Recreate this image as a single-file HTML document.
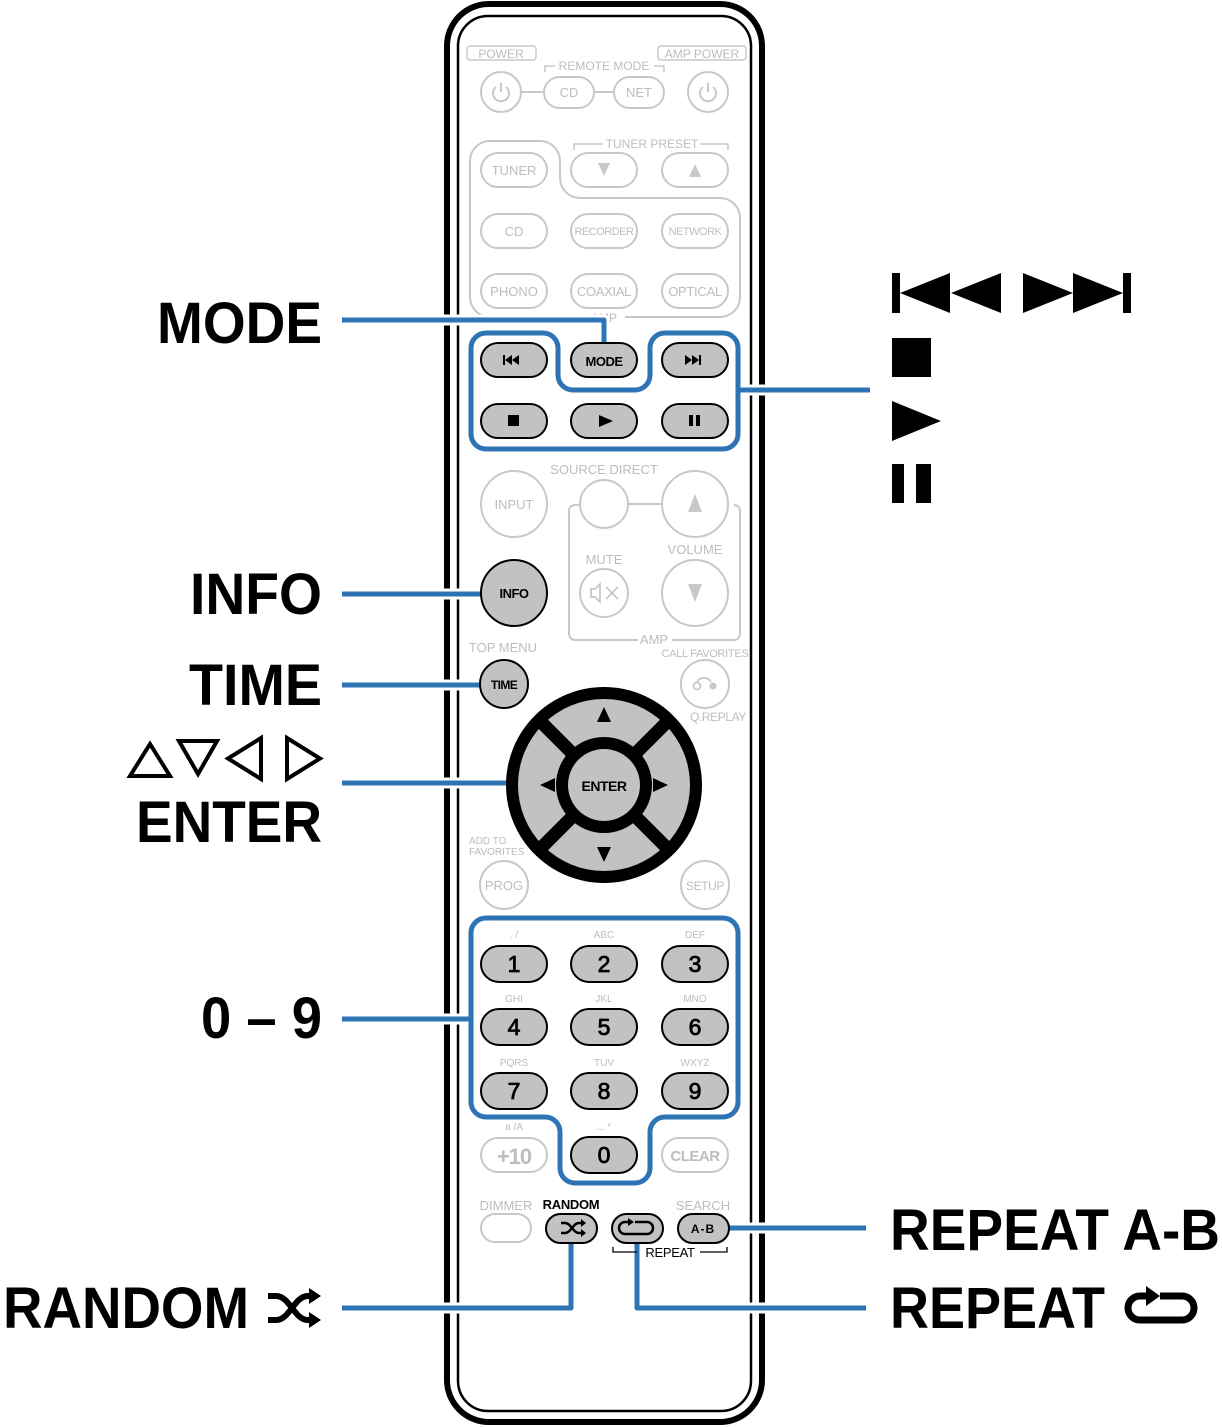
<!DOCTYPE html>
<html><head><meta charset="utf-8"><style>
html,body{margin:0;padding:0;background:#fff;}
svg{display:block;}
text{font-family:"Liberation Sans",Arial,sans-serif;}
</style></head><body>
<svg width="1222" height="1427" viewBox="0 0 1222 1427" xmlns="http://www.w3.org/2000/svg">
<!-- remote body -->
<rect x="447" y="4" width="315" height="1418" rx="42" fill="#fff" stroke="#000" stroke-width="6"/>
<rect x="458" y="16" width="293" height="1395" rx="30" fill="none" stroke="#000" stroke-width="2.5"/>

<g font-size="12" fill="#bdbdbd" text-anchor="middle" stroke="none">
<rect x="467" y="46" width="69" height="14" rx="3" fill="none" stroke="#c8c8c8" stroke-width="1.5"/>
<text x="501" y="58">POWER</text>
<rect x="658" y="46" width="88" height="14" rx="3" fill="none" stroke="#c8c8c8" stroke-width="1.5"/>
<text x="702" y="58">AMP POWER</text>
<text x="604" y="70">REMOTE MODE</text>
<path d="M545 72V66H555M654 66H664V72" fill="none" stroke="#c8c8c8" stroke-width="1.5"/>
<path d="M521 92H544M594 92H614" stroke="#c8c8c8" stroke-width="2"/>
<circle cx="501" cy="92" r="20" fill="#fff" stroke="#c8c8c8" stroke-width="2"/>
<circle cx="708" cy="92" r="20" fill="#fff" stroke="#c8c8c8" stroke-width="2"/>
<path d="M496 87a8 8 0 1 0 10 0M501 83v9" fill="none" stroke="#c8c8c8" stroke-width="2"/>
<path d="M703 87a8 8 0 1 0 10 0M708 83v9" fill="none" stroke="#c8c8c8" stroke-width="2"/>
<rect x="544" y="77" width="50" height="31" rx="15.5" fill="#fff" stroke="#c8c8c8" stroke-width="2"/>
<rect x="614" y="77" width="50" height="31" rx="15.5" fill="#fff" stroke="#c8c8c8" stroke-width="2"/>
<text x="569" y="97" font-size="13">CD</text><text x="639" y="97" font-size="13">NET</text>

<text x="652" y="148">TUNER PRESET</text>
<path d="M574 150V144H603M700 144H728V150" fill="none" stroke="#c8c8c8" stroke-width="1.5"/>
<path d="M490 141H540A20 20 0 0 1 560 161V178A20 20 0 0 0 580 198H720A20 20 0 0 1 740 218V297A20 20 0 0 1 720 317H490A20 20 0 0 1 470 297V161A20 20 0 0 1 490 141Z" fill="none" stroke="#c8c8c8" stroke-width="2"/>
<rect x="585" y="311" width="40" height="12" fill="#fff"/>
<text x="604" y="322">AMP</text>
<g fill="#fff" stroke="#c8c8c8" stroke-width="2">
<rect x="481" y="153" width="66" height="34" rx="17"/><rect x="571" y="153" width="66" height="34" rx="17"/><rect x="662" y="153" width="66" height="34" rx="17"/>
<rect x="481" y="214" width="66" height="34" rx="17"/><rect x="571" y="214" width="66" height="34" rx="17"/><rect x="662" y="214" width="66" height="34" rx="17"/>
<rect x="481" y="274" width="66" height="34" rx="17"/><rect x="571" y="274" width="66" height="34" rx="17"/><rect x="662" y="274" width="66" height="34" rx="17"/>
</g>
<text x="514" y="175" font-size="13">TUNER</text>
<path d="M598 163h12l-6 13z M689 177h12l-6-13z" fill="#c8c8c8"/>
<text x="514" y="236" font-size="13">CD</text>
<text x="604" y="235" font-size="11" letter-spacing="-0.5">RECORDER</text>
<text x="695" y="235" font-size="11" letter-spacing="-0.5">NETWORK</text>
<text x="514" y="296" font-size="13">PHONO</text>
<text x="604" y="296" font-size="13" letter-spacing="-0.3">COAXIAL</text>
<text x="695" y="296" font-size="13" letter-spacing="-0.3">OPTICAL</text>

<text x="604" y="474" font-size="13">SOURCE DIRECT</text>
<path d="M580 505H575A6 6 0 0 0 569 511V634A6 6 0 0 0 575 640H638M672 640H734A6 6 0 0 0 740 634V511A6 6 0 0 0 734 505" fill="none" stroke="#c8c8c8" stroke-width="2"/>
<path d="M628 504H662" stroke="#c8c8c8" stroke-width="2"/>
<text x="654" y="644" font-size="13">AMP</text>
<g fill="#fff" stroke="#c8c8c8" stroke-width="2">
<circle cx="514" cy="504" r="33"/><circle cx="604" cy="504" r="24"/><circle cx="695" cy="504" r="33"/>
<circle cx="604" cy="593" r="24"/><circle cx="695" cy="593" r="33"/>
<circle cx="705" cy="684" r="24"/><circle cx="504" cy="885" r="24"/><circle cx="705" cy="885" r="24"/>
</g>
<text x="514" y="509" font-size="13">INPUT</text>
<path d="M688 512h14l-7-18z M688 584h14l-7 18z" fill="#c8c8c8"/>
<text x="695" y="554" font-size="13">VOLUME</text>
<text x="604" y="564" font-size="13">MUTE</text>
<path d="M591 589h4l5-5v18l-5-5h-4z M606 587l12 12M618 587l-12 12" fill="none" stroke="#c8c8c8" stroke-width="1.8"/>
<text x="503" y="652" font-size="13">TOP MENU</text>
<text x="705" y="657" font-size="11" letter-spacing="-0.3">CALL FAVORITES</text>
<circle cx="697" cy="686" r="3.5" fill="none" stroke="#c8c8c8" stroke-width="1.8"/><circle cx="713" cy="686" r="3.5" fill="#c8c8c8"/>
<path d="M697 682a8 8 0 0 1 14 0" fill="none" stroke="#c8c8c8" stroke-width="1.8"/>
<text x="718" y="721" font-size="12" letter-spacing="-0.4">Q.REPLAY</text>
<text x="469" y="844" font-size="10" text-anchor="start">ADD TO</text>
<text x="469" y="855" font-size="10" text-anchor="start">FAVORITES</text>
<text x="504" y="890" font-size="13">PROG</text>
<text x="705" y="890" font-size="12" letter-spacing="-0.4">SETUP</text>

<text x="514" y="938" font-size="10">. /</text><text x="604" y="938" font-size="10">ABC</text><text x="695" y="938" font-size="10">DEF</text>
<text x="514" y="1002" font-size="10">GHI</text><text x="604" y="1002" font-size="10">JKL</text><text x="695" y="1002" font-size="10">MNO</text>
<text x="514" y="1066" font-size="10">PQRS</text><text x="604" y="1066" font-size="10">TUV</text><text x="695" y="1066" font-size="10">WXYZ</text>
<text x="514" y="1130" font-size="10">a /A</text><text x="604" y="1130" font-size="10">⌴ *</text>
<rect x="481" y="1138" width="66" height="34" rx="17" fill="#fff" stroke="#c8c8c8" stroke-width="2"/>
<rect x="662" y="1138" width="66" height="34" rx="17" fill="#fff" stroke="#c8c8c8" stroke-width="2"/>
<text x="514" y="1164" font-size="22" font-weight="bold" letter-spacing="-1">+10</text>
<text x="695" y="1161" font-size="15" font-weight="bold" letter-spacing="-0.5">CLEAR</text>
<text x="506" y="1210" font-size="13">DIMMER</text>
<text x="703" y="1210" font-size="13">SEARCH</text>
<rect x="481" y="1214" width="50" height="28" rx="14" fill="#fff" stroke="#c8c8c8" stroke-width="2"/>
</g>

<g fill="none" stroke-linejoin="round">
<g stroke="#fff" stroke-width="11">
<path d="M342 320H604V345"/><path d="M738 390H870"/><path d="M342 594H481"/><path d="M342 685H480"/><path d="M342 783H507"/><path d="M342 1019H471"/>
<path d="M342 1308H571V1242"/><path d="M637 1242V1308H866"/><path d="M729 1228H866"/>
</g>
<g stroke="#2e74b5" stroke-width="5">
<path d="M342 320H604V345"/><path d="M738 390H870"/><path d="M342 594H481"/><path d="M342 685H480"/><path d="M342 783H507"/><path d="M342 1019H471"/>
<path d="M342 1308H571V1242"/><path d="M637 1242V1308H866"/><path d="M729 1228H866"/>
<path d="M486 333H543A15 15 0 0 1 558 348V375A15 15 0 0 0 573 390H635A15 15 0 0 0 650 375V348A15 15 0 0 1 665 333H723A15 15 0 0 1 738 348V434A15 15 0 0 1 723 449H486A15 15 0 0 1 471 434V348A15 15 0 0 1 486 333Z"/>
<path d="M486 918H723A15 15 0 0 1 738 933V1102A15 15 0 0 1 723 1117H665A15 15 0 0 0 650 1132V1168A15 15 0 0 1 635 1183H575A15 15 0 0 1 560 1168V1132A15 15 0 0 0 545 1117H486A15 15 0 0 1 471 1102V933A15 15 0 0 1 486 918Z"/>
</g>
</g>

<g fill="#c2c2c2" stroke="#000" stroke-width="2">
<rect x="481" y="343" width="66" height="34" rx="17"/><rect x="571" y="343" width="66" height="34" rx="17"/><rect x="662" y="343" width="66" height="34" rx="17"/>
<rect x="481" y="404" width="66" height="34" rx="17"/><rect x="571" y="404" width="66" height="34" rx="17"/><rect x="662" y="404" width="66" height="34" rx="17"/>
<circle cx="514" cy="593" r="33"/><circle cx="504" cy="684" r="24"/>
<rect x="481" y="946" width="66" height="36" rx="18"/><rect x="571" y="946" width="66" height="36" rx="18"/><rect x="662" y="946" width="66" height="36" rx="18"/>
<rect x="481" y="1009" width="66" height="36" rx="18"/><rect x="571" y="1009" width="66" height="36" rx="18"/><rect x="662" y="1009" width="66" height="36" rx="18"/>
<rect x="481" y="1073" width="66" height="36" rx="18"/><rect x="571" y="1073" width="66" height="36" rx="18"/><rect x="662" y="1073" width="66" height="36" rx="18"/>
<rect x="571" y="1137" width="66" height="36" rx="18"/>
<rect x="546" y="1214" width="51" height="29" rx="14.5"/><rect x="612" y="1214" width="51" height="29" rx="14.5"/><rect x="678" y="1214" width="51" height="29" rx="14.5"/>
</g>
<g fill="#000">
<path d="M503 355h2v10h-2z M505 360l7-5v10z M512 360l7-5v10z"/>
<path d="M685 355l7 5-7 5z M692 355l7 5-7 5z M699 355h2v10h-2z"/>
<rect x="508" y="415" width="11" height="11"/>
<path d="M599 415l14 6-14 6z"/>
<rect x="689" y="415" width="4" height="11"/><rect x="696" y="415" width="4" height="11"/>
</g>
<g font-weight="bold" text-anchor="middle" fill="#000">
<text x="604" y="366" font-size="13" letter-spacing="-0.5">MODE</text>
<text x="514" y="598" font-size="13" letter-spacing="-0.5">INFO</text>
<text x="504" y="689" font-size="12" letter-spacing="-0.6">TIME</text>
<g font-size="23" font-weight="normal" stroke="#000" stroke-width="0.8">
<text x="514" y="972">1</text><text x="604" y="972">2</text><text x="695" y="972">3</text>
<text x="514" y="1035">4</text><text x="604" y="1035">5</text><text x="695" y="1035">6</text>
<text x="514" y="1099">7</text><text x="604" y="1099">8</text><text x="695" y="1099">9</text>
<text x="604" y="1163">0</text>
</g>
<text x="571" y="1209" font-size="13" letter-spacing="-0.3">RANDOM</text>
<text x="703" y="1233" font-size="12" letter-spacing="1">A-B</text>
<text x="670" y="1257" font-size="13" font-weight="normal" letter-spacing="-0.3">REPEAT</text>
</g>
<path d="M613 1247v5h24M700 1252h27v-5" fill="none" stroke="#000" stroke-width="1.3"/>
<path d="M561 1223h4c6 0 8 10 14 10h4M561 1233h4c6 0 8-10 14-10h4" fill="none" stroke="#000" stroke-width="2.5"/>
<path d="M581 1219l5 4-5 4zM581 1229l5 4-5 4z" fill="#000"/>
<path d="M629 1222h-4a6 6 0 0 0 0 12h22a6 6 0 0 0 0-12h-12" fill="none" stroke="#000" stroke-width="2.5"/>
<path d="M628 1218l6 4-6 4z" fill="#000"/>

<!-- D-pad -->
<circle cx="604" cy="785" r="98" fill="#000"/>
<circle cx="604" cy="785" r="86" fill="#c2c2c2"/>
<circle cx="604" cy="785" r="48" fill="#000"/>
<g stroke="#000" stroke-width="13">
<path d="M543 724L665 846M665 724L543 846"/>
</g>
<circle cx="604" cy="785" r="36" fill="#c2c2c2"/>
<g fill="#000">
<path d="M597 722h14l-7-15z M597 847h14l-7 15z M540 785l15-7v14z M668 785l-15-7v14z"/>
</g>
<text x="604" y="791" font-size="14" font-weight="bold" text-anchor="middle" letter-spacing="-0.5">ENTER</text>

<g font-weight="bold" fill="#000" font-size="58">
<text x="157" y="343" textLength="165" lengthAdjust="spacingAndGlyphs">MODE</text>
<text x="190" y="614" textLength="132" lengthAdjust="spacingAndGlyphs">INFO</text>
<text x="189" y="705" textLength="133" lengthAdjust="spacingAndGlyphs">TIME</text>
<text x="136" y="842" textLength="186" lengthAdjust="spacingAndGlyphs">ENTER</text>
<text x="201" y="1038" textLength="121" lengthAdjust="spacingAndGlyphs">0 – 9</text>
<text x="3" y="1328" textLength="246" lengthAdjust="spacingAndGlyphs">RANDOM</text>
<text x="890" y="1250" textLength="330" lengthAdjust="spacingAndGlyphs">REPEAT A-B</text>
<text x="890" y="1328" textLength="215" lengthAdjust="spacingAndGlyphs">REPEAT</text>
</g>
<g fill="none" stroke="#000" stroke-width="4" stroke-linejoin="miter">
<path d="M150 744L170 776H130Z"/><path d="M179 741H217L198 774Z"/><path d="M261 738V779L228 758.5Z"/><path d="M287 738V779L320 758.5Z"/>
</g>
<path d="M268 1296h8c14 0 18 24 32 24h4M268 1320h8c14 0 18-24 32-24h4" fill="none" stroke="#000" stroke-width="6"/>
<path d="M309 1288l12 8-12 8zM309 1312l12 8-12 8z" fill="#000"/>
<path d="M1148 1296h-8a12 12 0 0 0 0 24h42a12 12 0 0 0 0-24h-22" fill="none" stroke="#000" stroke-width="7"/>
<path d="M1146 1286l14 10-14 10z" fill="#000"/>

<g fill="#000">
<rect x="892" y="273" width="8" height="40"/><path d="M900 293l50-20v40z M951 293l50-20v40z"/>
<path d="M1023 273l50 20-50 20z M1073 273l50 20-50 20z"/><rect x="1123" y="273" width="8" height="40"/>
<rect x="892" y="338" width="39" height="39"/>
<path d="M892 401l49 20-49 20z"/>
<rect x="892" y="464" width="12" height="39"/><rect x="916" y="464" width="15" height="39"/>
</g>
</svg>
</body></html>
